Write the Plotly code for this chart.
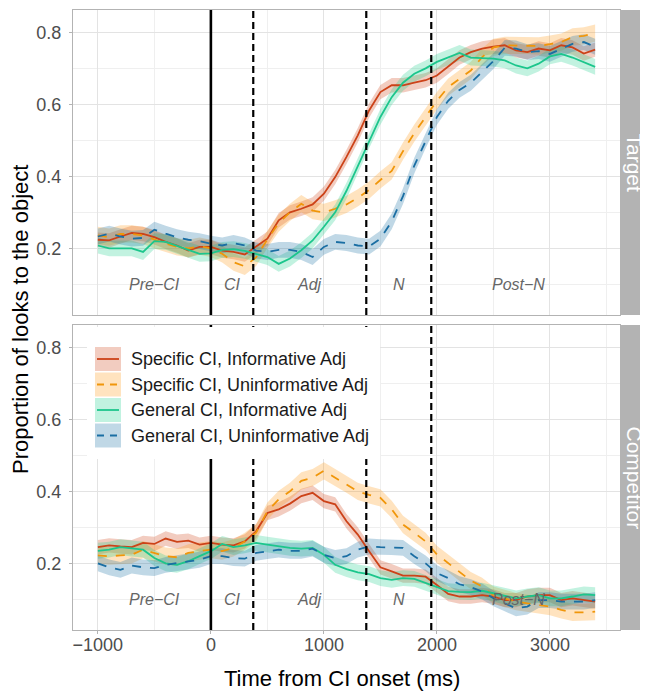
import plotly.graph_objects as go
from plotly.subplots import make_subplots

# ---------------- data ----------------
time_ms = [-1000, -900, -800, -700, -600, -500, -400, -300, -200, -100,
           0, 100, 200, 300, 400, 500, 600, 700, 800, 900,
           1000, 1100, 1200, 1300, 1400, 1500, 1600, 1700, 1800, 1900,
           2000, 2100, 2200, 2300, 2400, 2500, 2600, 2700, 2800, 2900,
           3000, 3100, 3200, 3300, 3400]

series_names = ["Specific CI, Informative Adj", "Specific CI, Uninformative Adj",
                "General CI, Informative Adj", "General CI, Uninformative Adj"]

# Target panel
spec_inf_target = [0.224, 0.222, 0.233, 0.243, 0.240, 0.231, 0.218, 0.208, 0.194, 0.204,
                   0.204, 0.194, 0.190, 0.183, 0.205, 0.227, 0.278, 0.300, 0.310, 0.322,
                   0.352, 0.398, 0.454, 0.514, 0.583, 0.634, 0.653, 0.653, 0.660, 0.667,
                   0.680, 0.704, 0.730, 0.745, 0.755, 0.760, 0.764, 0.750, 0.745, 0.755,
                   0.750, 0.764, 0.758, 0.741, 0.752]
spec_uninf_target = [0.236, 0.231, 0.240, 0.240, 0.236, 0.224, 0.213, 0.204, 0.200, 0.206,
                     0.200, 0.185, 0.162, 0.150, 0.175, 0.225, 0.270, 0.300, 0.324, 0.305,
                     0.300, 0.310, 0.322, 0.340, 0.362, 0.390, 0.415, 0.470, 0.520, 0.565,
                     0.610, 0.648, 0.671, 0.694, 0.731, 0.758, 0.764, 0.764, 0.764, 0.762,
                     0.767, 0.773, 0.787, 0.790, 0.798]
gen_inf_target = [0.208, 0.200, 0.200, 0.200, 0.190, 0.220, 0.218, 0.208, 0.196, 0.185,
                  0.186, 0.196, 0.198, 0.193, 0.185, 0.176, 0.157, 0.172, 0.195, 0.222,
                  0.260, 0.300, 0.360, 0.430, 0.500, 0.565, 0.620, 0.660, 0.685, 0.700,
                  0.718, 0.730, 0.743, 0.730, 0.728, 0.727, 0.722, 0.708, 0.700, 0.713,
                  0.733, 0.740, 0.730, 0.718, 0.704]
gen_uninf_target = [0.233, 0.241, 0.233, 0.227, 0.229, 0.252, 0.241, 0.231, 0.224, 0.220,
                    0.213, 0.208, 0.215, 0.208, 0.194, 0.190, 0.196, 0.196, 0.190, 0.176,
                    0.204, 0.218, 0.215, 0.208, 0.205, 0.227, 0.275, 0.345, 0.430, 0.500,
                    0.565, 0.610, 0.640, 0.660, 0.690, 0.720, 0.757, 0.755, 0.745, 0.748,
                    0.740, 0.755, 0.768, 0.773, 0.760]

# Competitor panel
spec_inf_comp = [0.245, 0.250, 0.247, 0.245, 0.257, 0.254, 0.269, 0.260, 0.263, 0.252,
                 0.257, 0.252, 0.250, 0.261, 0.289, 0.340, 0.350, 0.366, 0.387, 0.396,
                 0.373, 0.364, 0.317, 0.280, 0.234, 0.189, 0.178, 0.166, 0.166, 0.163,
                 0.140, 0.115, 0.108, 0.108, 0.112, 0.108, 0.098, 0.098, 0.108, 0.112,
                 0.112, 0.098, 0.103, 0.098, 0.094]
spec_uninf_comp = [0.222, 0.220, 0.222, 0.224, 0.238, 0.229, 0.220, 0.217, 0.229, 0.234,
                   0.238, 0.234, 0.243, 0.261, 0.285, 0.345, 0.378, 0.400, 0.429, 0.438,
                   0.457, 0.438, 0.420, 0.400, 0.390, 0.382, 0.350, 0.308, 0.285, 0.261,
                   0.225, 0.200, 0.175, 0.152, 0.136, 0.112, 0.103, 0.094, 0.089, 0.085,
                   0.080, 0.071, 0.064, 0.064, 0.066]
gen_inf_comp = [0.235, 0.238, 0.245, 0.241, 0.238, 0.215, 0.200, 0.196, 0.206, 0.220,
                0.234, 0.254, 0.245, 0.250, 0.257, 0.252, 0.247, 0.243, 0.241, 0.243,
                0.224, 0.196, 0.184, 0.175, 0.170, 0.159, 0.154, 0.159, 0.157, 0.145,
                0.135, 0.123, 0.121, 0.120, 0.124, 0.117, 0.108, 0.103, 0.108, 0.112,
                0.103, 0.103, 0.108, 0.114, 0.112]
gen_uninf_comp = [0.200, 0.189, 0.182, 0.194, 0.189, 0.187, 0.196, 0.200, 0.206, 0.210,
                  0.220, 0.220, 0.215, 0.213, 0.229, 0.234, 0.238, 0.235, 0.235, 0.241,
                  0.224, 0.215, 0.220, 0.238, 0.247, 0.245, 0.245, 0.243, 0.220, 0.200,
                  0.173, 0.159, 0.142, 0.134, 0.122, 0.103, 0.089, 0.075, 0.080, 0.098,
                  0.098, 0.094, 0.094, 0.094, 0.098]

# half-width of the confidence ribbons (estimated)
ribbon_se = [0.020, 0.024, 0.022, 0.022]

# region boundaries and labels
boundaries = [0, 375, 1375, 1950]
region_labels = ["Pre\u2212CI", "CI", "Adj", "N", "Post\u2212N"]
region_label_x = [-500, 187, 875, 1662, 2725]
region_label_y = 0.1

panel_names = ["Target", "Competitor"]

# ---------------- styles ----------------
line_colors = ["#CC4218", "#F0960A", "#1CC68C", "#1A6EA3"]
fill_colors = ["rgba(207,66,22,0.27)", "rgba(255,150,20,0.27)",
               "rgba(29,207,140,0.27)", "rgba(22,111,162,0.27)"]
key_fills = ["rgb(242,204,192)", "rgb(255,227,191)", "rgb(193,242,224)", "rgb(192,216,230)"]
dashes = ["solid", "dash", "solid", "dash"]
FONT = "Liberation Sans, Arial, sans-serif"

# the page body adds an 8px offset; the figure is sized so that it ends at the window edge
OFF = 8
W, H = 648 - OFF, 692 - OFF
ML, MT = 73 - OFF, 10 - OFF
MR, MB = 28, 62
PW = W - ML - MR
PH = H - MT - MB


def px(X):  # screen x -> paper
    return (X - OFF - ML) / PW


def py(Y):  # screen y -> paper
    return (H - MB - (Y - OFF)) / PH


fig = make_subplots(rows=2, cols=1, shared_xaxes=True, vertical_spacing=10 / PH)

panels = [
    [spec_inf_target, spec_uninf_target, gen_inf_target, gen_uninf_target],
    [spec_inf_comp, spec_uninf_comp, gen_inf_comp, gen_uninf_comp],
]

for r, pdata in enumerate(panels, start=1):
    for i, m in enumerate(pdata):
        upper = [v + ribbon_se[i] for v in m]
        lower = [v - ribbon_se[i] for v in m]
        fig.add_trace(go.Scatter(
            x=time_ms + time_ms[::-1], y=upper + lower[::-1],
            fill="toself", fillcolor=fill_colors[i], line=dict(width=0),
            mode="lines", hoverinfo="skip", showlegend=False), row=r, col=1)
    for i, m in enumerate(pdata):
        fig.add_trace(go.Scatter(
            x=time_ms, y=m, mode="lines", name=series_names[i],
            line=dict(color=line_colors[i], width=1.8, dash=dashes[i]),
            showlegend=False), row=r, col=1)

grid_major = "#E3E3E3"
grid_minor = "#EFEFEF"
fig.update_xaxes(
    range=[-1220, 3620], tick0=0, dtick=1000, showgrid=True, gridcolor=grid_major, gridwidth=1,
    minor=dict(dtick=500, showgrid=True, gridcolor=grid_minor, gridwidth=0.6),
    showline=True, mirror=True, linecolor="#B3B3B3", linewidth=1, zeroline=False,
    tickfont=dict(family=FONT, size=18, color="#4D4D4D"),
)
fig.update_xaxes(ticks="", showticklabels=False, row=1, col=1)
fig.update_xaxes(ticks="outside", ticklen=3, tickcolor="#B3B3B3", ticklabelstandoff=-5, row=2, col=1)
fig.update_yaxes(
    range=[0.015, 0.862], tickvals=[0.2, 0.4, 0.6, 0.8], ticktext=["0.2", "0.4", "0.6", "0.8"],
    showgrid=True, gridcolor=grid_major, gridwidth=1,
    minor=dict(tickvals=[0.1, 0.3, 0.5, 0.7], showgrid=True, gridcolor=grid_minor, gridwidth=0.6),
    showline=True, mirror=True, linecolor="#B3B3B3", linewidth=1, zeroline=False,
    ticks="outside", ticklen=3, tickcolor="#B3B3B3", ticklabelstandoff=4,
    tickfont=dict(family=FONT, size=18, color="#4D4D4D"),
)

shapes = []
annotations = []
axes_pairs = [("x", "y"), ("x2", "y2")]
for xr, yr in axes_pairs:
    for j, b in enumerate(boundaries):
        shapes.append(dict(type="line", xref=xr, yref=yr + " domain", x0=b, x1=b, y0=0, y1=1,
                           line=dict(color="black", width=2.6 if j == 0 else 2.2,
                                     dash="solid" if j == 0 else "7px,4px"),
                           layer="above"))
    for lab, lx in zip(region_labels, region_label_x):
        annotations.append(dict(xref=xr, yref=yr, x=lx, y=region_label_y, text=lab, showarrow=False,
                                font=dict(family=FONT, size=16, color="#666666", style="italic")))

# facet strips
top_dom = fig.layout.yaxis.domain
bot_dom = fig.layout.yaxis2.domain
for dom, name in zip([top_dom, bot_dom], panel_names):
    shapes.append(dict(type="rect", xref="paper", yref="paper", x0=1.0, x1=px(652),
                       y0=dom[0], y1=dom[1], fillcolor="#B3B3B3", line=dict(width=0), layer="above"))
    annotations.append(dict(xref="paper", yref="paper", x=px(634), y=(dom[0] + dom[1]) / 2,
                            text=name, textangle=90, showarrow=False, xanchor="center", yanchor="middle",
                            font=dict(family=FONT, size=21, color="white")))

# legend (drawn inside the competitor panel like the original)
shapes.append(dict(type="rect", xref="paper", yref="paper", x0=px(87), x1=px(380), y0=py(459), y1=py(327),
                   fillcolor="white", line=dict(width=0), layer="above"))
row_centers = [359, 384.5, 410, 435.5]
for i, yc in enumerate(row_centers):
    shapes.append(dict(type="rect", xref="paper", yref="paper", x0=px(95), x1=px(121),
                       y0=py(yc + 12), y1=py(yc - 12), fillcolor=key_fills[i], line=dict(width=0),
                       layer="above"))
    shapes.append(dict(type="line", xref="paper", yref="paper", x0=px(97), x1=px(119),
                       y0=py(yc), y1=py(yc),
                       line=dict(color=line_colors[i], width=1.8,
                                 dash="solid" if dashes[i] == "solid" else "7px,6px"),
                       layer="above"))
    annotations.append(dict(xref="paper", yref="paper", x=px(129), y=py(yc), text=series_names[i],
                            showarrow=False, xanchor="left", yanchor="middle",
                            font=dict(family=FONT, size=18, color="#1A1A1A")))

# axis titles
annotations.append(dict(xref="paper", yref="paper", x=px(342), y=py(678), text="Time from CI onset (ms)",
                        showarrow=False, xanchor="center", yanchor="middle",
                        font=dict(family=FONT, size=22, color="black")))
annotations.append(dict(xref="paper", yref="paper", x=px(20), y=0.5, text="Proportion of looks to the object",
                        textangle=-90, showarrow=False, xanchor="center", yanchor="middle",
                        font=dict(family=FONT, size=22, color="black")))

fig.update_layout(
    width=W, height=H, margin=dict(l=ML, r=MR, t=MT, b=MB),
    paper_bgcolor="white", plot_bgcolor="white",
    shapes=shapes, annotations=annotations, showlegend=False,
    font=dict(family=FONT),
)

fig.write_html("out.html")
